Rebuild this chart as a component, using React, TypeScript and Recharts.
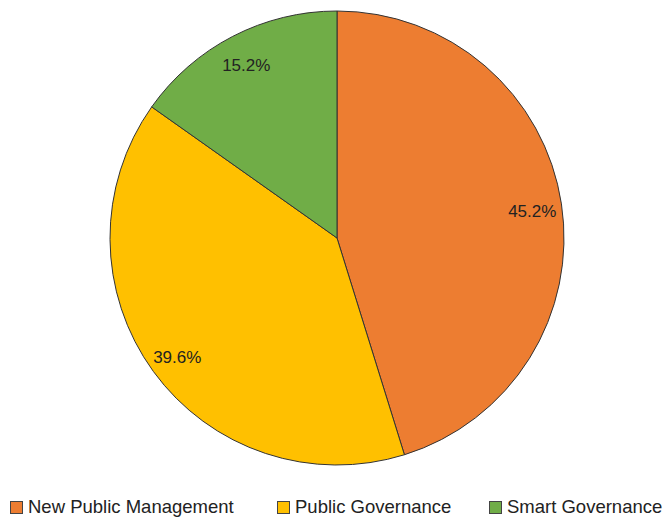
import { PieChart, Pie, Cell, Legend } from "recharts";

const categories = ["New Public Management", "Public Governance", "Smart Governance"];
const shares = [45.2, 39.6, 15.2];
const COLORS = ["#ED7D31", "#FFC000", "#70AD47"];

const data = categories.map((name, i) => ({ name, value: shares[i] }));

const RADIAN = Math.PI / 180;

function renderLabel(props: any) {
  const { cx, cy, midAngle, outerRadius, value } = props;
  const r = outerRadius * 0.87;
  const x = cx + r * Math.cos(-midAngle * RADIAN);
  const y = cy + r * Math.sin(-midAngle * RADIAN) + 3;
  return (
    <text
      x={x}
      y={y}
      fill="#222"
      fontSize={17}
      textAnchor="middle"
      dominantBaseline="central"
      fontFamily="Liberation Sans, Arial, sans-serif"
    >
      {`${value.toFixed(1)}%`}
    </text>
  );
}

const legendX = [10, 277, 489];

function renderLegend() {
  return (
    <div style={{ position: "relative", height: 24, width: 666 }}>
      {categories.map((c, i) => (
        <div
          key={c}
          style={{
            position: "absolute",
            left: legendX[i],
            top: 0,
            display: "flex",
            alignItems: "center",
            fontFamily: "Liberation Sans, Arial, sans-serif",
            fontSize: 18.5,
            color: "#222",
            whiteSpace: "nowrap",
          }}
        >
          <span
            style={{
              display: "inline-block",
              width: 11,
              height: 11,
              background: COLORS[i],
              border: "1px solid #444",
              marginRight: 5,
            }}
          />
          {c}
        </div>
      ))}
    </div>
  );
}

export default function App() {
  return (
    <div style={{ position: "absolute", left: 0, top: 0, width: 666, height: 517, background: "#fff" }}>
      <PieChart width={666} height={517} margin={{ top: 0, right: 0, bottom: 0, left: 0 }}>
        <Pie
          data={data}
          dataKey="value"
          nameKey="name"
          cx={337}
          cy={238}
          outerRadius={227}
          startAngle={90}
          endAngle={-270}
          stroke="#333"
          strokeWidth={1}
          label={renderLabel}
          labelLine={false}
          isAnimationActive={false}
        >
          {data.map((_, i) => (
            <Cell key={`cell-${i}`} fill={COLORS[i]} />
          ))}
        </Pie>
        <Legend
          content={renderLegend}
          layout="horizontal"
          verticalAlign="bottom"
          align="left"
          wrapperStyle={{ left: 0, bottom: -3, width: 666 }}
        />
      </PieChart>
    </div>
  );
}
